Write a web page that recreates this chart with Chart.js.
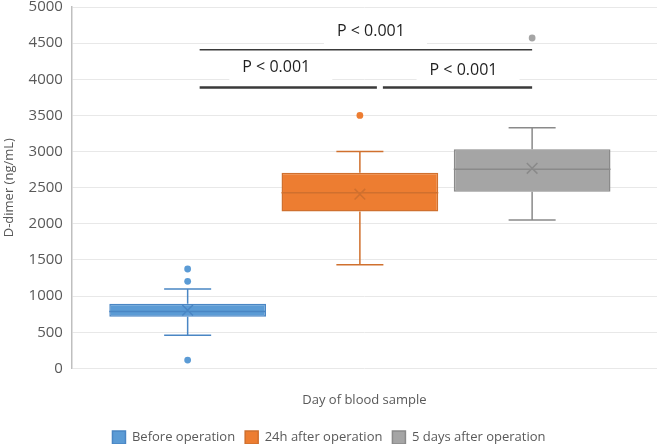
<!DOCTYPE html>
<html>
<head>
<meta charset="utf-8">
<title>D-dimer box plot</title>
<script src="https://cdn.jsdelivr.net/npm/chart.js"></script>
<style>
  html, body { margin: 0; padding: 0; background: #fff; }
  #wrap { width: 660px; height: 444px; position: relative; }
</style>
</head>
<body>
<div id="wrap"><canvas id="boxChart"></canvas></div>
<script>
// box plot data
const categories = ['Before operation', '24h after operation', '5 days after operation'];
const q1Values = [713, 2170, 2445];
const q3Values = [893, 2706, 3032];
const medianValues = [787, 2430, 2755];
const meanValues = [805, 2410, 2768];
const whiskerLow = [458, 1433, 2053];
const whiskerHigh = [1097, 3000, 3329];
const outlierValues = [[115, 1204, 1375], [3500], [4571]];

// y axis ticks
const yMin = 0;
const yMax = 5000;
const yStep = 500;

// significance brackets: [from box, to box], bracket level, label level
const pLabels = ['P < 0.001', 'P < 0.001', 'P < 0.001'];
const pPairs = [[0, 2], [0, 1], [1, 2]];
const pLineLevels = [4410, 3888, 3888];
const pTextLevels = [4668, 4160, 4123];

const fillColors = ['#5b9bd5', '#ed7d31', '#a5a5a5'];
const lineColors = ['#4a86c4', '#d0702e', '#8a8a8a'];

const FONT = "'Open Sans', 'Noto Sans', sans-serif";

// whiskers, median, mean and outliers on top of the floating bars
const boxParts = {
  id: 'boxParts',
  afterDatasetsDraw(chart) {
    const ctx = chart.ctx;
    const ys = chart.scales.y;
    chart.data.datasets.forEach((ds, i) => {
      const bar = chart.getDatasetMeta(i).data[0];
      if (!bar) return;
      const cx = bar.x;
      const half = bar.width / 2;
      const cap = bar.width * 0.15;
      ctx.save();
      ctx.strokeStyle = ds.borderColor;
      ctx.lineWidth = 1.5;
      ctx.beginPath();
      // whiskers
      ctx.moveTo(cx, ys.getPixelForValue(whiskerHigh[i]));
      ctx.lineTo(cx, ys.getPixelForValue(q3Values[i]));
      ctx.moveTo(cx, ys.getPixelForValue(q1Values[i]));
      ctx.lineTo(cx, ys.getPixelForValue(whiskerLow[i]));
      ctx.moveTo(cx - cap, ys.getPixelForValue(whiskerHigh[i]));
      ctx.lineTo(cx + cap, ys.getPixelForValue(whiskerHigh[i]));
      ctx.moveTo(cx - cap, ys.getPixelForValue(whiskerLow[i]));
      ctx.lineTo(cx + cap, ys.getPixelForValue(whiskerLow[i]));
      // median
      ctx.moveTo(cx - half, ys.getPixelForValue(medianValues[i]));
      ctx.lineTo(cx + half, ys.getPixelForValue(medianValues[i]));
      // mean marker (x)
      const my = ys.getPixelForValue(meanValues[i]);
      const m = 5.3;
      ctx.moveTo(cx - m, my - m);
      ctx.lineTo(cx + m, my + m);
      ctx.moveTo(cx - m, my + m);
      ctx.lineTo(cx + m, my - m);
      ctx.stroke();
      // outliers
      ctx.fillStyle = ds.backgroundColor;
      outlierValues[i].forEach(v => {
        ctx.beginPath();
        ctx.arc(cx, ys.getPixelForValue(v), 3.4, 0, Math.PI * 2);
        ctx.fill();
      });
      ctx.restore();
    });
  }
};

// p-value brackets and their text boxes
const pValues = {
  id: 'pValues',
  afterDraw(chart) {
    const ctx = chart.ctx;
    const ys = chart.scales.y;
    const cx = chart.data.datasets.map((d, i) => chart.getDatasetMeta(i).data[0].x);
    // hand placed shapes, small offsets from box centres
    const starts = [cx[0] + 12, cx[0] + 12, cx[1] + 23];
    const ends = [cx[2], cx[1] + 17, cx[2]];
    const textShift = [5, -12, 6];
    const widths = [1.5, 2.5, 2.5];
    ctx.save();
    ctx.font = '16px ' + FONT;
    ctx.textBaseline = 'middle';
    pLabels.forEach((label, k) => {
      const ty = ys.getPixelForValue(pTextLevels[k]);
      const tw = ctx.measureText(label).width;
      const mid = (starts[k] + ends[k]) / 2 + textShift[k];
      const left = mid - tw / 2;
      ctx.fillStyle = '#ffffff';
      ctx.fillRect(left - 13, ty - 13, 103, 28);
      ctx.fillStyle = '#1f1f1f';
      ctx.textAlign = 'left';
      ctx.fillText(label, left, ty);
    });
    pPairs.forEach((pair, k) => {
      const ly = ys.getPixelForValue(pLineLevels[k]);
      ctx.strokeStyle = '#3a3a3a';
      ctx.lineWidth = widths[k];
      ctx.beginPath();
      ctx.moveTo(starts[k], ly);
      ctx.lineTo(ends[k], ly);
      ctx.stroke();
    });
    ctx.restore();
  }
};

window.addEventListener('DOMContentLoaded', function () {
  const ctx = document.getElementById('boxChart').getContext('2d');
  const datasets = categories.map((name, i) => ({
    label: name,
    data: [{ x: i + 1, y: [q1Values[i], q3Values[i]] }],
    backgroundColor: fillColors[i],
    borderColor: lineColors[i],
    borderWidth: 1.5,
    borderSkipped: false,
    grouped: false,
    categoryPercentage: 1,
    barPercentage: 0.91
  }));

  new Chart(ctx, {
    type: 'bar',
    data: { datasets: datasets },
    options: {
      responsive: true,
      maintainAspectRatio: false,
      animation: false,
      layout: { padding: { top: 0, right: 3, bottom: -10, left: 1 } },
      plugins: {
        legend: {
          position: 'bottom',
          labels: {
            boxWidth: 13,
            boxHeight: 13,
            padding: 10,
            color: '#595959',
            font: { family: FONT, size: 13 }
          }
        },
        tooltip: { enabled: false }
      },
      scales: {
        x: {
          type: 'linear',
          offset: false,
          min: 0.328,
          max: 3.725,
          // only the box positions count as ticks, so bar width follows box spacing
          afterBuildTicks: (axis) => {
            axis.ticks = categories.map((c, i) => ({ value: i + 1 }));
          },
          grid: { display: false },
          border: { display: false },
          ticks: { display: false },
          title: {
            display: true,
            text: 'Day of blood sample',
            color: '#595959',
            font: { family: FONT, size: 13 },
            padding: { top: 16, bottom: 13 }
          }
        },
        y: {
          min: yMin,
          max: yMax,
          afterFit: (axis) => { axis.paddingTop = 7; },
          ticks: {
            stepSize: yStep,
            color: '#595959',
            padding: 9,
            font: { family: FONT, size: 15 },
            callback: (v) => String(v)
          },
          grid: { color: '#e8e8e8', drawTicks: false },
          border: { color: '#bfbfbf', width: 1.5 },
          title: {
            display: true,
            text: 'D-dimer (ng/mL)',
            color: '#595959',
            font: { family: FONT, size: 13 },
            padding: { top: 0, bottom: 3 }
          }
        }
      }
    },
    plugins: [boxParts, pValues]
  });
});
</script>
</body>
</html>
